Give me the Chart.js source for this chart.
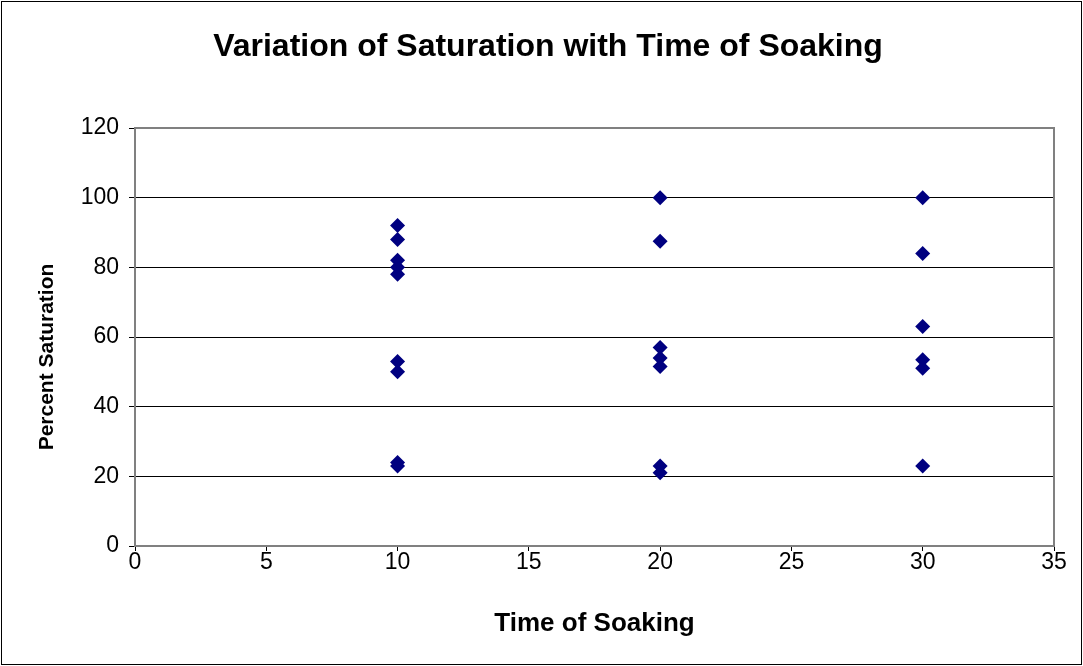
<!DOCTYPE html>
<html>
<head>
<meta charset="utf-8">
<script src="https://cdn.jsdelivr.net/npm/chart.js@4"></script>
<style>
    body { margin: 0; background: #fff; }
    #wrap { width: 1083px; height: 666px; }
</style>
</head>
<body>
<div id="wrap"><canvas id="chart-saturation"></canvas></div>
<script>
// data
var soakTime = [10, 10, 10, 10, 10, 10, 10, 10, 10,
                20, 20, 20, 20, 20, 20, 20,
                30, 30, 30, 30, 30, 30];
var saturation = [92, 88, 82, 80, 78, 53, 50, 24, 23,
                  100, 87.5, 57, 54, 51.5, 23, 21,
                  100, 84, 63, 53.5, 51, 23];
var xTicks = [0, 5, 10, 15, 20, 25, 30, 35];
var yTicks = [0, 20, 40, 60, 80, 100, 120];
var yTitle = 'Percent Saturation';

var FONT = "'Liberation Sans', Arial, sans-serif";

// gray frame round the plot, y title (sits a bit low in the original), outer border
var framePlugin = {
    id: 'frame',
    beforeDatasetsDraw: function(chart) {
        var a = chart.chartArea, c = chart.ctx;
        c.save();
        c.strokeStyle = '#808080';
        c.lineWidth = 2;
        c.strokeRect(a.left, a.top, a.right - a.left, a.bottom - a.top);
        c.restore();
    },
    afterDraw: function(chart) {
        var c = chart.ctx, a = chart.chartArea;
        c.save();
        c.translate(47, (a.top + a.bottom) / 2 + 20);
        c.rotate(-Math.PI / 2);
        c.fillStyle = '#000';
        c.font = 'bold 21px ' + FONT;
        c.textAlign = 'center';
        c.textBaseline = 'middle';
        c.fillText(yTitle, 0, 0);
        c.restore();

        c.save();
        c.strokeStyle = '#000';
        c.lineWidth = 1;
        c.strokeRect(1.5, 1.5, chart.width - 3, chart.height - 3);
        c.restore();
    }
};

var points = soakTime.map(function(t, i) { return {x: t, y: saturation[i]}; });

new Chart(document.getElementById('chart-saturation'), {
    type: 'scatter',
    data: {
        datasets: [{
            data: points,
            pointStyle: 'rectRot',
            pointRadius: 7.5,
            pointHoverRadius: 7.5,
            backgroundColor: '#000080',
            borderColor: '#000080',
            borderWidth: 0
        }]
    },
    options: {
        responsive: true,
        maintainAspectRatio: false,
        animation: false,
        layout: { padding: { left: 13, right: 0, top: 0, bottom: 0 } },
        plugins: {
            legend: { display: false },
            tooltip: { enabled: false },
            title: {
                display: true,
                text: 'Variation of Saturation with Time of Soaking',
                color: '#000',
                font: { family: FONT, size: 32, weight: 'bold' },
                padding: { top: 28, bottom: 61.6 }
            }
        },
        scales: {
            x: {
                type: 'linear',
                min: 0,
                max: 35,
                afterBuildTicks: function(s) { s.ticks = xTicks.map(function(v) { return {value: v}; }); },
                afterFit: function(s) { s.height = 120; },
                grid: { drawOnChartArea: false, tickLength: 5, tickColor: '#000' },
                border: { color: '#000', width: 1 },
                ticks: { color: '#000', font: { family: FONT, size: 23 }, padding: -2, maxRotation: 0 },
                title: {
                    display: true,
                    text: 'Time of Soaking',
                    color: '#000',
                    font: { family: FONT, size: 26, weight: 'bold' },
                    padding: { top: 0, bottom: 27 }
                }
            },
            y: {
                type: 'linear',
                min: 0,
                max: 120,
                afterBuildTicks: function(s) { s.ticks = yTicks.map(function(v) { return {value: v}; }); },
                afterFit: function(s) { s.width = 122; },
                grid: {
                    color: function(ctx) { return ctx.tick && ctx.tick.value === 120 ? 'rgba(0,0,0,0)' : '#000'; },
                    tickLength: 6,
                    tickColor: '#000'
                },
                border: { color: '#000', width: 1 },
                ticks: { color: '#000', font: { family: FONT, size: 23 }, padding: 10 }
            },
            // empty right axis, only keeps the plot's right edge at the original spot
            yRight: {
                type: 'linear',
                position: 'right',
                min: 0,
                max: 120,
                afterFit: function(s) { s.width = 29; },
                grid: { display: false },
                border: { display: false },
                ticks: { display: false }
            }
        }
    },
    plugins: [framePlugin]
});
</script>
</body>
</html>
